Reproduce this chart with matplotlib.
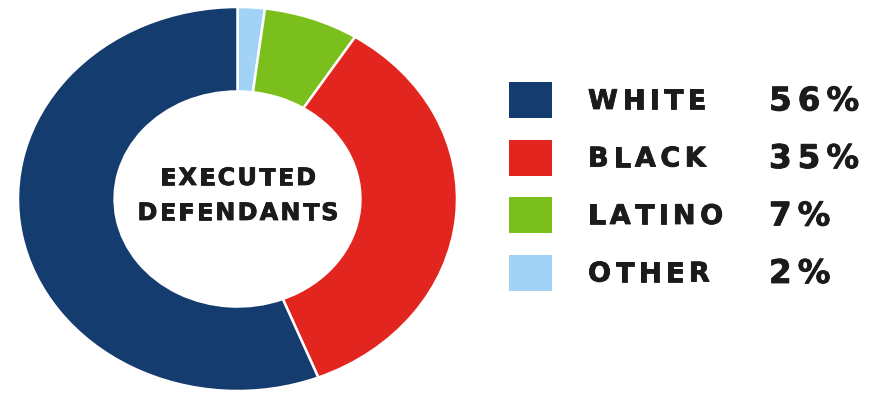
import matplotlib
matplotlib.use("Agg")
import matplotlib.pyplot as plt
import matplotlib.patheffects as pe
from matplotlib.patches import Rectangle

# data
groups = ["WHITE", "BLACK", "LATINO", "OTHER"]
shares = [56, 35, 7, 2]
colors = ["#143c6e", "#e2261f", "#7abf1b", "#a2d3f6"]
center_lines = ["EXECUTED", "DEFENDANTS"]

W, H = 873, 393
FONT = ["DejaVu Sans"]
INK = "#1b1b1b"
HEAVY = [pe.withStroke(linewidth=0.6, foreground=INK)]


def put_tracked(fig, x, y, text, size, tracking, ha="left"):
    """Draw text letter by letter with extra spacing; x, y in pixels from top-left, y = baseline."""
    renderer = fig.canvas.get_renderer()
    pieces = []
    for ch in text:
        t = fig.text(0, 0, ch, fontsize=size, family=FONT, weight="bold",
                     color=INK, va="baseline", ha="left", path_effects=HEAVY)
        pieces.append((t, t.get_window_extent(renderer).width))
    total = sum(w for _, w in pieces) + tracking * (len(pieces) - 1)
    x0 = x - total / 2 if ha == "center" else x
    for t, w in pieces:
        t.set_position((x0 / W, 1 - y / H))
        x0 += w + tracking
    return total


fig = plt.figure(figsize=(W / 100, H / 100), dpi=100)
fig.patch.set_facecolor("white")

# donut (slightly stretched horizontally, like the reference)
ax = fig.add_axes([18 / W, 2 / H, 439 / W, 384 / H])
ax.pie(shares[::-1], colors=colors[::-1], startangle=90, counterclock=False,
       radius=1.0, wedgeprops=dict(width=0.44, edgecolor="white", linewidth=1.8))
ax.set_aspect("auto")
ax.set_xlim(-1, 1)
ax.set_ylim(-1, 1)
ax.axis("off")

for line, base in zip(center_lines, [185, 220]):
    put_tracked(fig, 238, base, line, 17.2, 2.2, ha="center")

# legend: swatch, label, percentage
row_top, row_step = 82, 57.5
for i, (name, val, col) in enumerate(zip(groups, shares, colors)):
    top = row_top + i * row_step
    fig.patches.append(Rectangle((509 / W, 1 - (top + 36) / H), 43 / W, 36 / H,
                                 transform=fig.transFigure, facecolor=col,
                                 edgecolor="none"))
    put_tracked(fig, 588, top + 27, name, 19.5, 4.5)
    put_tracked(fig, 769, top + 28.5, f"{val}%", 23.5, 6)

fig.savefig("out.png", dpi=100, facecolor="white")
